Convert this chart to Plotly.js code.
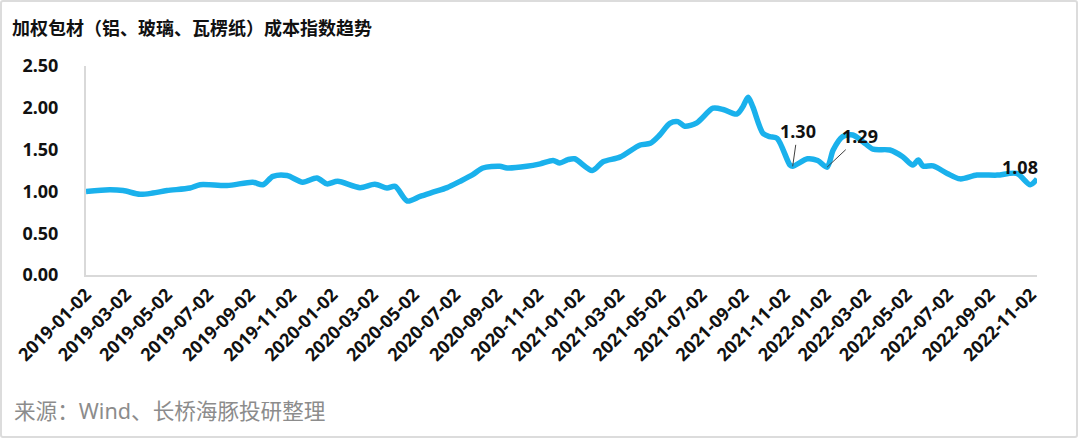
<!DOCTYPE html>
<html>
<head>
<meta charset="utf-8">
<script src="https://cdn.plot.ly/plotly-3.0.1.min.js"></script>
<style>
  html, body { margin: 0; padding: 0; background: #fff; }
  #wrap { position: relative; width: 1080px; height: 440px; }
  #chart { width: 1080px; height: 440px; }
  #frame { position: absolute; left: 0; top: 0; width: 1074px; height: 434px;
           border: 2px solid #dcdcdc; border-radius: 3px; pointer-events: none; }
</style>
</head>
<body>
<div id="wrap"><div id="chart"></div><div id="frame"></div></div>
<script>
// ---- data ----
const dates = [
  '2019-01-02','2019-02-06','2019-02-26','2019-03-23','2019-04-11','2019-05-02','2019-06-05','2019-06-20',
  '2019-07-30','2019-09-06','2019-09-21','2019-10-06','2019-10-27','2019-11-19','2019-12-10','2019-12-25',
  '2020-01-10','2020-02-12','2020-03-05','2020-03-23','2020-04-04','2020-04-22','2020-05-11','2020-05-30',
  '2020-06-20','2020-07-09','2020-07-28','2020-08-12','2020-09-06','2020-09-17','2020-10-16','2020-11-05',
  '2020-11-24','2020-12-04','2020-12-16','2020-12-26','2021-01-21','2021-02-06','2021-03-03','2021-04-02',
  '2021-04-17','2021-05-01','2021-05-16','2021-05-28','2021-06-07','2021-06-25','2021-07-19','2021-08-03',
  '2021-08-23','2021-09-01','2021-09-09','2021-09-16','2021-10-01','2021-10-11','2021-10-22','2021-11-10',
  '2021-11-14','2021-12-06','2021-12-21','2022-01-04','2022-01-13','2022-01-27','2022-02-11','2022-02-26',
  '2022-03-13','2022-04-07','2022-04-26','2022-05-11','2022-05-19','2022-05-26','2022-06-10','2022-07-01',
  '2022-07-20','2022-08-14','2022-09-13','2022-10-12','2022-11-01','2022-11-11'
];
const indexValues = [
  1.00, 1.02, 1.01, 0.965, 0.98, 1.01, 1.04, 1.08,
  1.07, 1.11, 1.08, 1.18, 1.19, 1.11, 1.16, 1.09,
  1.12, 1.045, 1.085, 1.04, 1.06, 0.885, 0.94, 0.99,
  1.045, 1.12, 1.20, 1.28, 1.30, 1.28, 1.30, 1.33,
  1.37, 1.34, 1.38, 1.39, 1.25, 1.355, 1.41, 1.555,
  1.575, 1.675, 1.815, 1.835, 1.78, 1.82, 1.995, 1.98,
  1.925, 2.01, 2.125, 2.01, 1.695, 1.655, 1.635, 1.315,
  1.30, 1.39, 1.37, 1.29, 1.495, 1.655, 1.675, 1.595,
  1.505, 1.495, 1.415, 1.315, 1.375, 1.305, 1.305, 1.215,
  1.15, 1.195, 1.195, 1.215, 1.08, 1.15
];
const tickDates = [
  '2019-01-02','2019-03-02','2019-05-02','2019-07-02','2019-09-02','2019-11-02',
  '2020-01-02','2020-03-02','2020-05-02','2020-07-02','2020-09-02','2020-11-02',
  '2021-01-02','2021-03-02','2021-05-02','2021-07-02','2021-09-02','2021-11-02',
  '2022-01-02','2022-03-02','2022-05-02','2022-07-02','2022-09-02','2022-11-02'
];
const labelDates = ['2021-11-14', '2022-01-04', '2022-11-01'];
const labelValues = [1.30, 1.29, 1.08];
const titleText = '加权包材（铝、玻璃、瓦楞纸）成本指数趋势';
const sourceText = '来源：Wind、长桥海豚投研整理';

// ---- chart ----
const FONT = '"Noto Sans", "Noto Sans CJK SC", sans-serif';
const trace = {
  type: 'scatter', mode: 'lines',
  x: dates, y: indexValues,
  line: { color: '#1AB1EC', width: 5.5, shape: 'spline', smoothing: 0.8 },
  hoverinfo: 'skip'
};

const labelOffsets = [ {ax: 5, ay: -35, arrow: true}, {ax: 33, ay: -31, arrow: true}, {ax: -10, ay: -18, arrow: false} ];
const annotations = labelDates.map((d, i) => {
  const o = labelOffsets[i];
  const a = {
    x: d, y: labelValues[i], xref: 'x', yref: 'y',
    text: labelValues[i].toFixed(2),
    font: { family: FONT, size: 18, color: '#111', weight: 'bold' }
  };
  if (o.arrow) {
    Object.assign(a, { showarrow: true, arrowhead: 0, arrowwidth: 1, arrowcolor: '#404040', ax: o.ax, ay: o.ay, standoff: 0 });
  } else {
    Object.assign(a, { showarrow: false, xshift: o.ax, yshift: -o.ay });
  }
  return a;
});
annotations.push({
  xref: 'paper', yref: 'paper', x: (12 - 86) / 951, y: (275 - 411) / 209,
  xanchor: 'left', yanchor: 'middle', showarrow: false,
  text: sourceText, font: { family: FONT, size: 21.6, color: '#8c8c8c' }
});

const layout = {
  width: 1080, height: 440,
  margin: { l: 86, r: 43, t: 66, b: 165, pad: 0 },
  paper_bgcolor: '#fff', plot_bgcolor: '#fff',
  showlegend: false,
  title: {
    text: titleText, xref: 'container', yref: 'container',
    x: 12 / 1080, xanchor: 'left', y: 1 - 29 / 440, yanchor: 'middle',
    font: { family: FONT, size: 18, color: '#111', weight: 'bold' }
  },
  xaxis: {
    type: 'date', range: ['2019-01-02', '2022-11-11'], automargin: false,
    tickmode: 'array', tickvals: tickDates, ticktext: tickDates,
    tickangle: -45, ticks: '', showgrid: false, zeroline: false,
    showline: true, linecolor: '#d9d9d9', linewidth: 2,
    tickfont: { family: FONT, size: 18, color: '#111', weight: 'bold' }
  },
  yaxis: {
    range: [0, 2.5], tickmode: 'linear', tick0: 0, dtick: 0.5, tickformat: '.2f',
    ticks: '', showgrid: false, zeroline: false, automargin: false,
    showline: true, linecolor: '#d9d9d9', linewidth: 2,
    ticklabelstandoff: 22,
    tickfont: { family: FONT, size: 18, color: '#111', weight: 'bold' }
  },
  annotations: annotations
};

Plotly.newPlot('chart', [trace], layout, { displayModeBar: false, staticPlot: true });
</script>
</body>
</html>
